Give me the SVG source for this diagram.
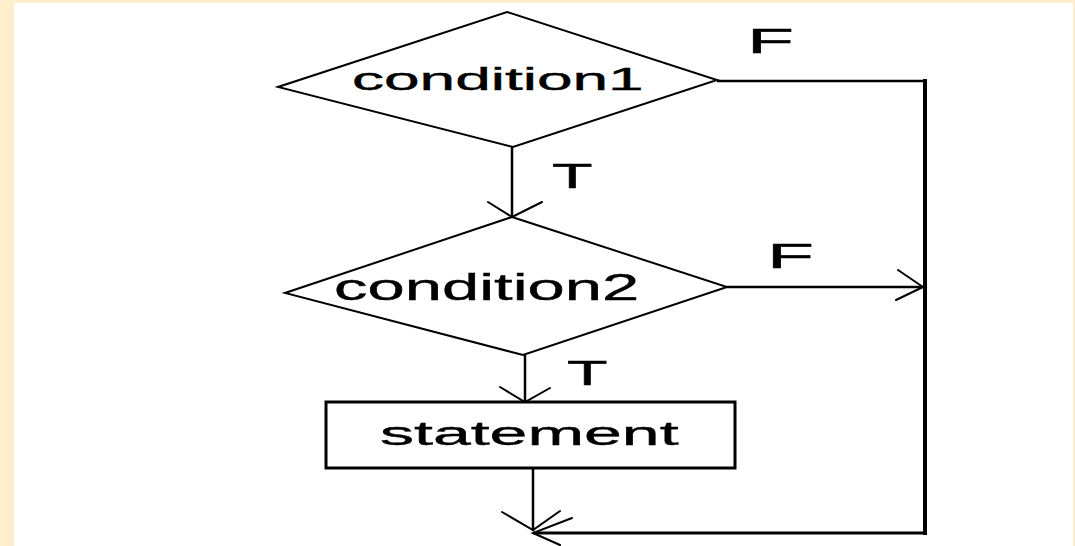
<svg xmlns="http://www.w3.org/2000/svg" width="1075" height="546" viewBox="0 0 1075 546">
  <style>
    .shape { fill: #ffffff; stroke: #000000; stroke-width: 2; }
    .box { fill: #ffffff; stroke: #000000; stroke-width: 3; }
    .line { fill: none; stroke: #000000; stroke-width: 2.5; }
    .thick { fill: none; stroke: #000000; stroke-width: 4; }
    .arm { fill: none; stroke: #000000; stroke-width: 2; stroke-linecap: round; }
    .lbl { font-family: "Liberation Sans", Arial, sans-serif; fill: #000000; stroke: #000000; stroke-width: 0.4; }
  </style>
  <rect x="0" y="0" width="1075" height="546" fill="#FDEFCB"/>
  <rect x="14" y="3" width="1059" height="543" fill="#ffffff"/>

  <g id="connectors">
    <polyline class="line" points="717,81 925,81"/>
    <line class="thick" x1="925" y1="79" x2="925" y2="535"/>
    <line class="line" x1="533" y1="533" x2="927" y2="533" style="stroke-width:3"/>
    <line class="line" x1="512" y1="147" x2="512" y2="217"/>
    <polyline class="arm" points="488,202 512,217 542,202"/>
    <line class="line" x1="727" y1="287" x2="923" y2="287"/>
    <polyline class="arm" points="898,270 923,287 896,300"/>
    <line class="line" x1="525" y1="355" x2="525" y2="402"/>
    <polyline class="arm" points="500,387 525,402 550,388"/>
    <line class="line" x1="533" y1="468" x2="533" y2="531"/>
    <polyline class="arm" points="502,512 533,530 560,511"/>
    <polyline class="arm" points="572,518 533,533 560,545"/>
  </g>

  <g id="condition1">
    <polygon class="shape" points="507,12 717,80 513,147 278,87"/>
    <text class="lbl" transform="translate(352,90) scale(2.0,1)" font-size="32">condition1</text>
  </g>

  <g id="condition2">
    <polygon class="shape" points="512,217 727,287 523,355 285,293"/>
    <text class="lbl" transform="translate(334,300) scale(1.86,1)" font-size="36">condition2</text>
  </g>

  <g id="statement">
    <rect class="box" x="326" y="402" width="409" height="66"/>
    <text class="lbl" transform="translate(380,445) scale(2.0,1)" font-size="34">statement</text>
  </g>

  <g id="labels">
    <text class="lbl" transform="translate(552,188) scale(1.9,1)" font-size="35">T</text>
    <text class="lbl" transform="translate(567,385) scale(1.9,1)" font-size="35">T</text>
    <text class="lbl" transform="translate(747,53) scale(2.2,1)" font-size="35">F</text>
    <text class="lbl" transform="translate(767,268) scale(2.2,1)" font-size="35">F</text>
  </g>
</svg>
